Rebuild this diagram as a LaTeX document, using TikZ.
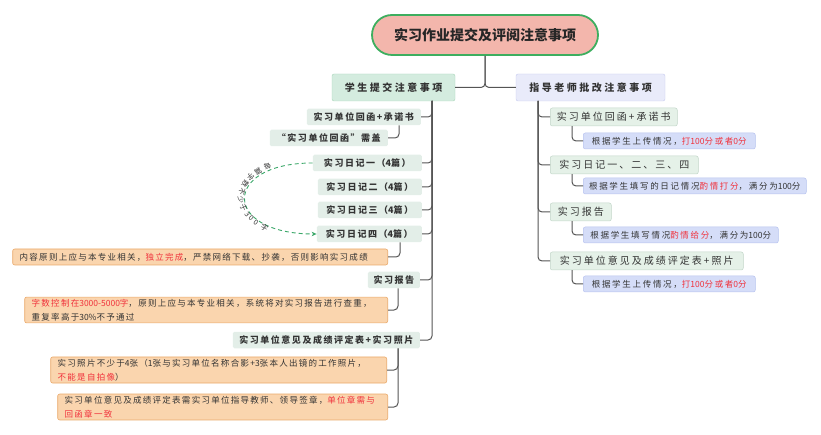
\documentclass[tikz,border=0pt]{standalone}
\usepackage{fontspec}
\setmainfont{Noto Sans CJK SC}
\newfontfamily\spnote[LetterSpace=15]{Noto Sans CJK SC}
\newfontfamily\spitem[LetterSpace=17]{Noto Sans CJK SC}
\newfontfamily\spright[LetterSpace=20]{Noto Sans CJK SC}
\newfontfamily\sphead[LetterSpace=25]{Noto Sans CJK SC}
\usepackage{xcolor}
\usetikzlibrary{positioning,calc,arrows.meta}

\definecolor{rootfill}{HTML}{F3B6AC}
\definecolor{rootdraw}{HTML}{3DAE5F}
\definecolor{stufill}{HTML}{D4ECDF}
\definecolor{studraw}{HTML}{A8D5BA}
\definecolor{teafill}{HTML}{E9EBFA}
\definecolor{teadraw}{HTML}{C5CAEE}
\definecolor{itemfill}{HTML}{E3EEE8}
\definecolor{notefill}{HTML}{FAD5AE}
\definecolor{notedraw}{HTML}{E9A96A}
\definecolor{rightfill}{HTML}{E5F1E8}
\definecolor{rightdraw}{HTML}{C2D6C8}
\definecolor{bluefill}{HTML}{D5DDF8}
\definecolor{bluedraw}{HTML}{B7C3EF}
\definecolor{redtxt}{HTML}{F0323C}
\definecolor{linegray}{HTML}{555555}
\definecolor{txtgray}{HTML}{333333}
\definecolor{arcgreen}{HTML}{3CA86A}

\newcommand{\hl}[1]{\textcolor{redtxt}{#1}}
\newcommand{\dg}[1]{{\rmfamily #1}}

\tikzset{
    conn/.style={draw=linegray, line width=1pt, rounded corners=4pt},
    rootbox/.style={draw=rootdraw, fill=rootfill, line width=1.8pt, rounded corners=20pt,
        minimum width=226pt, minimum height=40pt, text=black!85,
        font=\fontsize{14}{16}\selectfont\bfseries},
    headbox/.style={rounded corners=2pt, minimum height=27pt, inner sep=0pt, text=txtgray,
        font=\fontsize{10}{12}\sphead\bfseries},
    litem/.style={fill=itemfill, rounded corners=1.5pt, minimum height=16.5pt, inner sep=0pt,
        text=txtgray, font=\fontsize{9}{11}\spitem\bfseries},
    lnote/.style={fill=notefill, draw=notedraw, line width=0.6pt, rounded corners=2pt,
        minimum height=16pt, inner xsep=7pt, inner ysep=2pt, align=left, text=txtgray,
        font=\fontsize{8.5}{14}\spnote},
    ritem/.style={fill=rightfill, draw=rightdraw, line width=0.5pt, rounded corners=2pt,
        minimum height=18pt, inner sep=0pt, text=txtgray, font=\fontsize{10}{12}\spright},
    rnote/.style={fill=bluefill, draw=bluedraw, line width=0.5pt, rounded corners=2pt,
        minimum height=16pt, inner sep=0pt, text=txtgray, font=\fontsize{8.5}{10}\spright},
    arcarrow/.style={draw=arcgreen, dash pattern=on 4pt off 3pt, line width=0.9pt,
        -{Stealth[length=5pt,width=4.5pt]}},
    arcchar/.style={sloped, allow upside down, anchor=north, inner sep=0.3pt, text=txtgray,
        font=\fontsize{7}{8}\selectfont}
}

\begin{document}
\begin{tikzpicture}[x=1pt, y=-1pt]
    \useasboundingbox (0,0) rectangle (821,435);

    % Title and the two main branches
    \node[rootbox] (root) at (485,35) {实习作业提交及评阅注意事项};
    \node[headbox, fill=stufill, draw=studraw, minimum width=123pt] (stu) at (393.5,87.5) {学生提交注意事项};
    \node[headbox, fill=teafill, draw=teadraw, minimum width=149pt] (tea) at (590.5,87.5) {指导老师批改注意事项};
    \draw[conn] (root.south) |- (stu.east);
    \draw[conn] (root.south) |- (tea.west);

    % Student side
    \coordinate (ltrunk) at (432,101);
    \node[litem, anchor=east, minimum width=114pt] (lreply) at (421,117) {实习单位回函+承诺书};
    \node[litem, anchor=east, minimum width=118pt] (lseal) at (388,138) {“实习单位回函”需盖};
    \node[litem, anchor=east, minimum width=109pt] (ld1) at (422,163) {实习日记一\,（\dg{4}篇）};
    \node[litem, anchor=east, minimum width=104pt] (ld2) at (422,187) {实习日记二（\dg{4}篇）};
    \node[litem, anchor=east, minimum width=104pt] (ld3) at (422,210) {实习日记三（\dg{4}篇）};
    \node[litem, anchor=east, minimum width=105pt] (ld4) at (422,234) {实习日记四（\dg{4}篇）};
    \node[lnote, anchor=east, text width=361pt] (lnote1) at (388,257)
        {内容原则上应与本专业相关，\hl{独立完成}，严禁网络下载、抄袭，否则影响实习成绩};
    \node[litem, anchor=east, minimum width=52pt] (lrep) at (420,280) {实习报告};
    \node[lnote, anchor=east, text width=349pt] (lnote2) at (388,310)
        {\hl{字数控制在\dg{3000-5000}字}，原则上应与本专业相关，系统将对实习报告进行查重，\\重复率高于\dg{30\%}不予通过};
    \node[litem, anchor=east, minimum width=187pt] (leval) at (420,340) {实习单位意见及成绩评定表+实习照片};
    \node[lnote, anchor=east, text width=322pt] (lnote3) at (387,370)
        {实习照片不少于\dg{4}张（\dg{1}张与实习单位名称合影+\dg{3}张本人出镜的工作照片，\\\hl{不能是自拍像}）};
    \node[lnote, anchor=east, text width=316pt] (lnote4) at (388,407)
        {实习单位意见及成绩评定表需实习单位指导教师、领导签章，\hl{单位章需与}\\\hl{回函章一致}};

    \foreach \n in {lreply,ld1,ld2,ld3,ld4,lrep,leval}
        \draw[conn] (ltrunk) |- (\n.east);
    \draw[conn] ([xshift=-22pt]lreply.south east) |- (lseal.east);
    \draw[conn] ([xshift=-22pt]ld4.south east) |- (lnote1.east);
    \draw[conn] ([xshift=-22pt]lrep.south east) |- (lnote2.east);
    \draw[conn] ([xshift=-22pt]leval.south east) |- (lnote3.east);
    \draw[conn] ([xshift=-22pt]leval.south east) |- (lnote4.east);

    % Diary hint
    \draw[arcarrow] (ld1.west) .. controls ([xshift=-91pt]ld1.west) and ([xshift=-95pt]ld4.west) .. (ld4.west)
        foreach \c/\p in {每/0.2, 篇/0.26, 字/0.32, 数/0.38, 不/0.445, 少/0.51, 于/0.575, 3/0.63, 0/0.67, 0/0.71, 字/0.77}
        {node[arcchar, pos=\p] {\c}};

    % Teacher side
    \coordinate (rtrunk) at (538,101);
    \node[ritem, anchor=west, minimum width=127pt] (rreply) at (550,117) {实习单位回函+承诺书};
    \node[rnote, anchor=west, minimum width=172pt] (rb1) at (583,141) {根据学生上传情况，\hl{打\dg{100}分或者\dg{0}分}};
    \node[ritem, anchor=west, minimum width=148pt] (rdiary) at (550,165) {实习日记一、二、三、四};
    \node[rnote, anchor=west, minimum width=223pt] (rb2) at (583,186) {根据学生填写的日记情况\hl{酌情打分}，满分为\dg{100}分};
    \node[ritem, anchor=west, minimum width=61pt] (rrep) at (550,212) {实习报告};
    \node[rnote, anchor=west, minimum width=195pt] (rb3) at (583,235) {根据学生填写情况\hl{酌情给分}，满分为\dg{100}分};
    \node[ritem, anchor=west, minimum width=193pt] (reval) at (550,261) {实习单位意见及成绩评定表+照片};
    \node[rnote, anchor=west, minimum width=172pt] (rb4) at (583,284) {根据学生上传情况，\hl{打\dg{100}分或者\dg{0}分}};

    \foreach \n in {rreply,rdiary,rrep,reval}
        \draw[conn] (rtrunk) |- (\n.west);
    \draw[conn] ([xshift=22pt]rreply.south west) |- (rb1.west);
    \draw[conn] ([xshift=22pt]rdiary.south west) |- (rb2.west);
    \draw[conn] ([xshift=22pt]rrep.south west) |- (rb3.west);
    \draw[conn] ([xshift=22pt]reval.south west) |- (rb4.west);
\end{tikzpicture}
\end{document}
